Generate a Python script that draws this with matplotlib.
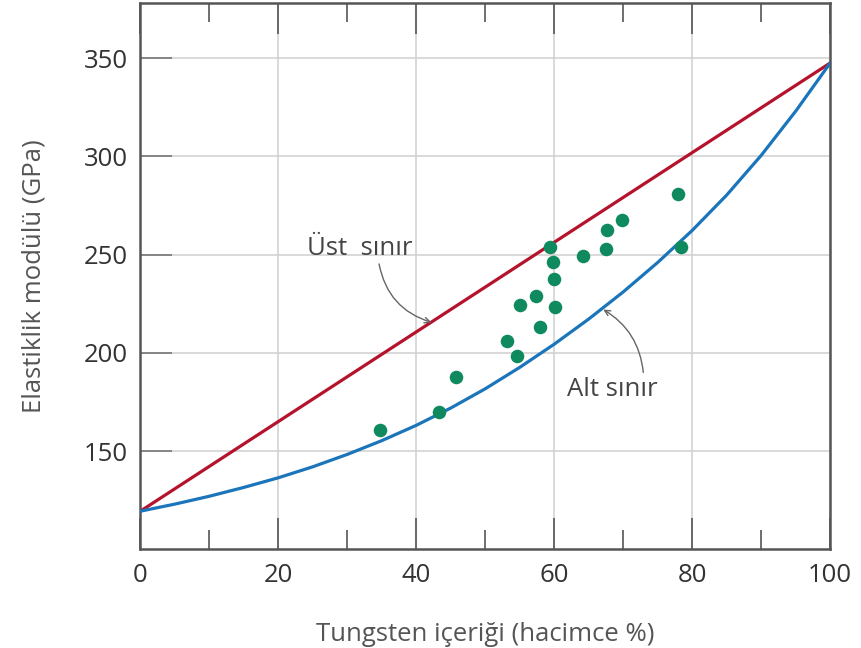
import numpy as np
import matplotlib.pyplot as plt
from matplotlib.ticker import MultipleLocator

# tungsten content (vol %) and modulus (GPa)
upper_x = [0, 100]
upper_y = [119.4, 347.5]

lower_x = [0, 5, 10, 15, 20, 25, 30, 35, 40, 45, 50, 55, 60, 65, 70, 75, 80, 85, 90, 95, 100]
lower_y = [119.4, 123.0, 127.0, 131.5, 136.4, 142.0, 148.3, 155.3, 163.1, 171.9, 181.7,
           192.6, 204.4, 217.2, 231.0, 246.0, 262.3, 280.3, 300.5, 323.0, 347.5]

data_x = [34.7, 43.3, 45.8, 53.2, 54.6, 55.1, 57.3, 58.0, 59.4, 59.8, 60.0, 60.1,
          64.1, 67.5, 67.7, 69.8, 78.0, 78.3]
data_y = [160.7, 170.1, 187.9, 206.1, 198.4, 224.4, 229.0, 213.2, 254.0, 246.0, 237.5, 223.1,
          249.4, 252.8, 262.5, 267.6, 280.8, 253.7]

plt.rcParams['font.family'] = ['Open Sans', 'DejaVu Sans']

fig = plt.figure(figsize=(8.61, 6.48), dpi=100)
ax = fig.add_axes([0.163, 0.1523, 0.8013, 0.8431])

ax.plot(upper_x, upper_y, color="#b5132b", lw=2.3, zorder=3)
ax.plot(lower_x, lower_y, color="#1b75bb", lw=2.3, zorder=3, solid_joinstyle="round")
ax.scatter(data_x, data_y, s=95, color="#0f8a5f", zorder=4, linewidths=0)

ax.set_xlim(0, 100)
ax.set_ylim(100, 378)
ax.xaxis.set_major_locator(MultipleLocator(20))
ax.xaxis.set_minor_locator(MultipleLocator(10))
ax.set_yticks([150, 200, 250, 300, 350])

ax.grid(True, which="major", color="#d0d0d0", lw=1.1, zorder=0)
for s in ax.spines.values():
    s.set_color("#555555")
    s.set_linewidth(1.8)

ax.tick_params(axis="x", which="major", direction="in", length=22, width=1.2,
               top=True, colors="#555555", labelcolor="#333333", labelsize=18.5, pad=10)
ax.tick_params(axis="x", which="minor", direction="in", length=13.5, width=1.2,
               top=True, colors="#555555")
ax.tick_params(axis="y", which="major", direction="in", length=23, width=1.2,
               colors="#777777", labelcolor="#333333", labelsize=18.5, pad=9)

ax.set_xlabel("Tungsten içeriği (hacimce %)", fontsize=18.5, color="#555555", labelpad=24)
ax.set_ylabel("Elastiklik modülü (GPa)", fontsize=18.5, color="#555555", labelpad=27)

ax.text(31.8, 253, "Üst  sınır", fontsize=18.5, color="#444444", ha="center", va="center")
ax.annotate("", xy=(42.2, 215.5), xytext=(34.6, 245.2),
            arrowprops=dict(arrowstyle="->", color="#666666", lw=1.0,
                            shrinkA=0, shrinkB=0, connectionstyle="arc3,rad=0.3"))
ax.text(68.4, 181.5, "Alt sınır", fontsize=18.5, color="#444444", ha="center", va="center")
ax.annotate("", xy=(67.1, 222), xytext=(72.9, 190),
            arrowprops=dict(arrowstyle="->", color="#666666", lw=1.0,
                            shrinkA=0, shrinkB=0, connectionstyle="arc3,rad=0.25"))

fig.savefig("out.png", dpi=100)
